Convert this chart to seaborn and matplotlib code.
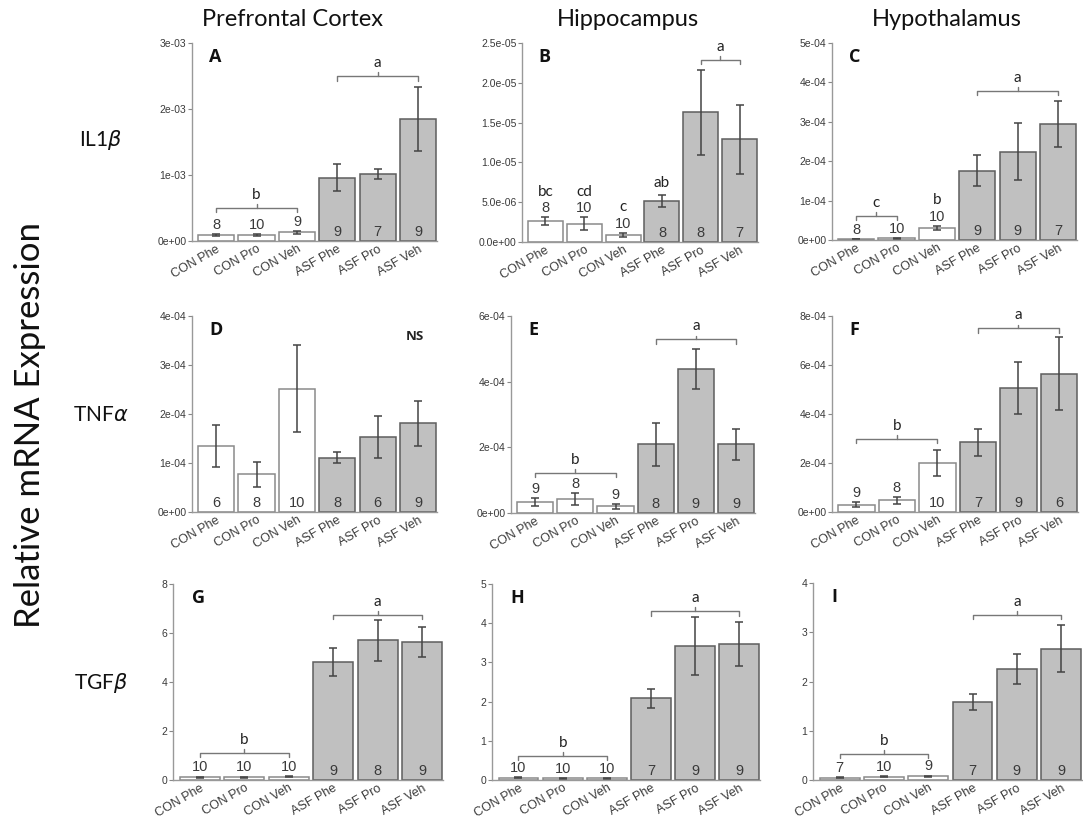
import numpy as np
import pandas as pd
import matplotlib
matplotlib.use("Agg")
import matplotlib.pyplot as plt
import matplotlib.transforms as mtransforms
import seaborn as sns

# group labels, shared by every panel
groups = ["CON Phe", "CON Pro", "CON Veh", "ASF Phe", "ASF Pro", "ASF Veh"]
condition = ["CON", "CON", "CON", "ASF", "ASF", "ASF"]
regions = ["Prefrontal Cortex", "Hippocampus", "Hypothalamus"]
genes = [r"IL1$\beta$", r"TNF$\alpha$", r"TGF$\beta$"]

# IL1b
il1b_pfc_mean = [0.09e-3, 0.09e-3, 0.13e-3, 0.96e-3, 1.01e-3, 1.85e-3]
il1b_pfc_sem = [0.015e-3, 0.02e-3, 0.025e-3, 0.2e-3, 0.075e-3, 0.48e-3]
il1b_pfc_n = [8, 10, 9, 9, 7, 9]
il1b_hip_mean = [2.6e-6, 2.3e-6, 0.85e-6, 5.2e-6, 16.3e-6, 12.9e-6]
il1b_hip_sem = [0.5e-6, 0.8e-6, 0.25e-6, 0.75e-6, 5.35e-6, 4.3e-6]
il1b_hip_n = [8, 10, 10, 8, 8, 7]
il1b_hyp_mean = [2e-6, 4e-6, 3.0e-5, 1.76e-4, 2.24e-4, 2.94e-4]
il1b_hyp_sem = [0.5e-6, 1e-6, 0.5e-5, 0.4e-4, 0.72e-4, 0.59e-4]
il1b_hyp_n = [8, 10, 10, 9, 9, 7]

# TNFa
tnfa_pfc_mean = [1.35e-4, 0.77e-4, 2.52e-4, 1.11e-4, 1.53e-4, 1.81e-4]
tnfa_pfc_sem = [0.435e-4, 0.25e-4, 0.88e-4, 0.12e-4, 0.43e-4, 0.465e-4]
tnfa_pfc_n = [6, 8, 10, 8, 6, 9]
tnfa_hip_mean = [0.34e-4, 0.42e-4, 0.2e-4, 2.09e-4, 4.39e-4, 2.09e-4]
tnfa_hip_sem = [0.12e-4, 0.18e-4, 0.07e-4, 0.65e-4, 0.62e-4, 0.47e-4]
tnfa_hip_n = [9, 8, 9, 8, 9, 9]
tnfa_hyp_mean = [0.3e-4, 0.48e-4, 2.0e-4, 2.85e-4, 5.08e-4, 5.64e-4]
tnfa_hyp_sem = [0.1e-4, 0.14e-4, 0.55e-4, 0.55e-4, 1.06e-4, 1.49e-4]
tnfa_hyp_n = [9, 8, 10, 7, 9, 6]

# TGFb
tgfb_pfc_mean = [0.12, 0.12, 0.13, 4.83, 5.71, 5.64]
tgfb_pfc_sem = [0.02, 0.02, 0.02, 0.57, 0.84, 0.61]
tgfb_pfc_n = [10, 10, 10, 9, 8, 9]
tgfb_hip_mean = [0.06, 0.04, 0.04, 2.08, 3.43, 3.47]
tgfb_hip_sem = [0.01, 0.01, 0.01, 0.245, 0.74, 0.565]
tgfb_hip_n = [10, 10, 10, 7, 9, 9]
tgfb_hyp_mean = [0.05, 0.07, 0.08, 1.59, 2.26, 2.67]
tgfb_hyp_sem = [0.01, 0.01, 0.01, 0.16, 0.305, 0.48]
tgfb_hyp_n = [7, 10, 9, 7, 9, 9]

# y axis ticks
il1b_pfc_ticks = [0, 1e-3, 2e-3, 3e-3]
il1b_hip_ticks = [0, 5e-6, 1e-5, 1.5e-5, 2e-5, 2.5e-5]
il1b_hyp_ticks = [0, 1e-4, 2e-4, 3e-4, 4e-4, 5e-4]
tnfa_pfc_ticks = [0, 1e-4, 2e-4, 3e-4, 4e-4]
tnfa_hip_ticks = [0, 2e-4, 4e-4, 6e-4]
tnfa_hyp_ticks = [0, 2e-4, 4e-4, 6e-4, 8e-4]
tgfb_pfc_ticks = [0, 2, 4, 6, 8]
tgfb_hip_ticks = [0, 1, 2, 3, 4, 5]
tgfb_hyp_ticks = [0, 1, 2, 3, 4]

# significance groups: (first bar, last bar, letter)
il1b_pfc_brackets = [(0, 2, "b"), (3, 5, "a")]
il1b_hip_brackets = [(4, 5, "a")]
il1b_hip_singles = [(0, "bc"), (1, "cd"), (2, "c"), (3, "ab")]
il1b_hyp_brackets = [(0, 1, "c"), (3, 5, "a")]
il1b_hyp_singles = [(2, "b")]
tnfa_hip_brackets = [(0, 2, "b"), (3, 5, "a")]
tnfa_hyp_brackets = [(0, 2, "b"), (3, 5, "a")]
tgfb_brackets = [(0, 2, "b"), (3, 5, "a")]

W, H = 1083, 819
CON_EDGE = "#8a8a8a"
ASF_EDGE = "#5e5e5e"
ASF_FILL = "#c0c0c0"
TXT = "#3a3a3a"

sns.set_style("white")
plt.rcParams["font.family"] = ["Liberation Sans", "DejaVu Sans"]

fig = plt.figure(figsize=(W / 100, H / 100), dpi=100)


def pix_axes(x0, y0, x1, y1):
    return fig.add_axes([x0 / W, 1 - y1 / H, (x1 - x0) / W, (y1 - y0) / H])


def draw_panel(ax, mean, sem, n, ticks, fmt, letter, brackets=(), singles=(),
               bracket_y=(), ns=False):
    df = pd.DataFrame({"group": groups, "mean": mean, "condition": condition})
    sns.barplot(data=df, x="group", y="mean", hue="condition",
                palette={"CON": "white", "ASF": ASF_FILL}, dodge=False,
                width=0.9, errorbar=None, legend=False, linewidth=1.1,
                edgecolor=ASF_EDGE, ax=ax)
    for p in ax.patches:
        if p.get_facecolor()[0] > 0.95:
            p.set_edgecolor(CON_EDGE)
    x = np.arange(len(groups))
    ax.errorbar(x, mean, yerr=sem, fmt="none", ecolor="#444444",
                elinewidth=1.1, capsize=3.2, capthick=1.1)
    ymax = ticks[-1]
    ax.set_ylim(0, ymax)
    ax.set_xlim(-0.6, 5.47)
    ax.set_yticks(ticks)
    ax.set_yticklabels([fmt % t for t in ticks])
    ax.set_xlabel("")
    ax.set_ylabel("")
    ax.tick_params(axis="y", labelsize=7.5, colors="#888888", labelcolor=TXT,
                   length=3, width=0.8, left=True, pad=1)
    ax.tick_params(axis="x", labelsize=9, labelcolor=TXT, length=0, pad=1.5)
    for lab in ax.get_xticklabels():
        lab.set_rotation(30)
        lab.set_ha("right")
        lab.set_rotation_mode("anchor")
    for s in ["top", "right"]:
        ax.spines[s].set_visible(False)
    for s in ["left", "bottom"]:
        ax.spines[s].set_color("#999999")
        ax.spines[s].set_linewidth(1)

    # n labels: inside tall bars, above short ones
    above = []
    for i in range(len(groups)):
        top = mean[i] + sem[i]
        if mean[i] / ymax > 0.15:
            ax.annotate(str(n[i]), (i, 0), xytext=(0, 1.5), textcoords="offset points",
                        ha="center", va="bottom", fontsize=10.5, color=TXT)
            above.append(False)
        else:
            ax.annotate(str(n[i]), (i, top), xytext=(0, 1.5), textcoords="offset points",
                        ha="center", va="bottom", fontsize=10.5, color=TXT)
            above.append(True)

    for i, lab in singles:
        off = 13.5 if above[i] else 3
        ax.annotate(lab, (i, mean[i] + sem[i]), xytext=(0, off), textcoords="offset points",
                    ha="center", va="bottom", fontsize=11, color="#222222",
                    family=["Lato", "DejaVu Sans"])

    trans = mtransforms.blended_transform_factory(ax.transData, ax.transAxes)
    for (i0, i1, lab), yb in zip(brackets, bracket_y):
        d = 4.5 / ax.bbox.height
        ax.plot([i0, i0, i1, i1], [yb - d, yb, yb, yb - d], color="#777777",
                lw=1, transform=trans, clip_on=False)
        xm = (i0 + i1) / 2
        ax.plot([xm, xm], [yb, yb + d * 0.8], color="#777777", lw=1,
                transform=trans, clip_on=False)
        ax.text(xm, yb + 0.03, lab, transform=trans, ha="center", va="bottom",
                fontsize=11, color="#222222", family=["Lato", "DejaVu Sans"])

    ax.text(0.07, 0.93, letter, transform=ax.transAxes, ha="left", va="center",
            fontsize=13, fontweight="bold", color="#111111",
            family=["Open Sans", "DejaVu Sans"])
    if ns:
        ax.text(0.91, 0.895, "NS", transform=ax.transAxes, ha="center", va="center",
                fontsize=9.5, fontweight="bold", color="#222222",
                family=["Open Sans", "DejaVu Sans"])


# row 1: IL1b
ax = pix_axes(192, 43, 437, 241)
draw_panel(ax, il1b_pfc_mean, il1b_pfc_sem, il1b_pfc_n, il1b_pfc_ticks, "%.0e", "A",
           il1b_pfc_brackets, bracket_y=[0.167, 0.833])
ax = pix_axes(522, 43, 758, 242)
draw_panel(ax, il1b_hip_mean, il1b_hip_sem, il1b_hip_n, il1b_hip_ticks, "%.1e", "B",
           il1b_hip_brackets, il1b_hip_singles, bracket_y=[0.916])
ax = pix_axes(832, 43, 1077, 240)
draw_panel(ax, il1b_hyp_mean, il1b_hyp_sem, il1b_hyp_n, il1b_hyp_ticks, "%.0e", "C",
           il1b_hyp_brackets, il1b_hyp_singles, bracket_y=[0.122, 0.758])

# row 2: TNFa
ax = pix_axes(192, 316, 437, 512)
draw_panel(ax, tnfa_pfc_mean, tnfa_pfc_sem, tnfa_pfc_n, tnfa_pfc_ticks, "%.0e", "D", ns=True)
ax = pix_axes(511, 316, 755, 513)
draw_panel(ax, tnfa_hip_mean, tnfa_hip_sem, tnfa_hip_n, tnfa_hip_ticks, "%.0e", "E",
           tnfa_hip_brackets, bracket_y=[0.205, 0.882])
ax = pix_axes(832, 316, 1078, 512)
draw_panel(ax, tnfa_hyp_mean, tnfa_hyp_sem, tnfa_hyp_n, tnfa_hyp_ticks, "%.0e", "F",
           tnfa_hyp_brackets, bracket_y=[0.3725, 0.9375])

# row 3: TGFb
ax = pix_axes(173, 584, 443, 780)
draw_panel(ax, tgfb_pfc_mean, tgfb_pfc_sem, tgfb_pfc_n, tgfb_pfc_ticks, "%d", "G",
           tgfb_brackets, bracket_y=[0.139, 0.844])
ax = pix_axes(492, 584, 760, 780)
draw_panel(ax, tgfb_hip_mean, tgfb_hip_sem, tgfb_hip_n, tgfb_hip_ticks, "%d", "H",
           tgfb_brackets, bracket_y=[0.124, 0.862])
ax = pix_axes(813, 583, 1082, 780)
draw_panel(ax, tgfb_hyp_mean, tgfb_hyp_sem, tgfb_hyp_n, tgfb_hyp_ticks, "%d", "I",
           tgfb_brackets, bracket_y=[0.1325, 0.84])

# column titles and row labels
for xc, name in zip([292, 628, 947], regions):
    fig.text(xc / W, 1 - 20 / H, name, ha="center", va="center", fontsize=17,
             color="#111111", family=["Lato", "DejaVu Sans"])
for yc, g in zip([140, 415, 683], genes):
    fig.text(101 / W, 1 - yc / H, g, ha="center", va="center", fontsize=15,
             color="#111111", family=["Lato", "DejaVu Sans"])
fig.text(30 / W, 1 - 425 / H, "Relative mRNA Expression", rotation=90, ha="center",
         va="center", fontsize=25, color="#111111", family=["Lato", "DejaVu Sans"])

plt.savefig("out.png", dpi=100)
